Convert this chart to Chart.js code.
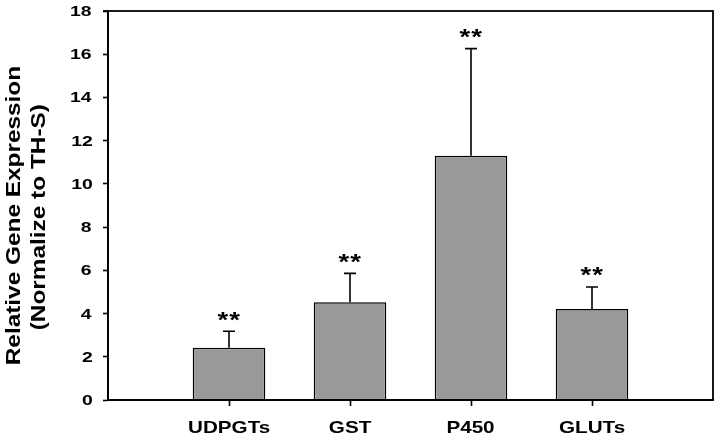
<!DOCTYPE html>
<html>
<head>
<meta charset="utf-8">
<script src="https://cdn.jsdelivr.net/npm/chart.js@4/dist/chart.umd.min.js"></script>
<style>
  html, body { margin: 0; padding: 0; background: #ffffff; }
  #wrap { width: 719px; height: 437px; position: relative; }
</style>
</head>
<body>
<div id="wrap"><canvas id="c" width="719" height="437"></canvas></div>
<script>
const categories = ["", "UDPGTs", "GST", "P450", "GLUTs", ""];
const means = [null, 2.42, 4.52, 11.3, 4.21, null];
const errors = [null, 0.76, 1.34, 4.96, 1.02, null];
const marks = ["", "**", "**", "**", "**", ""];
const yTicks = [0, 2, 4, 6, 8, 10, 12, 14, 16, 18];
const yTitle = ['Relative Gene Expression', '(Normalize to TH-S)'];

const FONT = "'Liberation Sans', Arial, sans-serif";
const SX = 1.25; // horizontal widening of the reference's typeface

function drawWide(ctx, text, x, y, size, opts) {
  opts = opts || {};
  ctx.save();
  ctx.translate(x, y);
  if (opts.rotate) ctx.rotate(opts.rotate);
  ctx.scale(SX, 1);
  ctx.font = 'bold ' + size + 'px ' + FONT;
  ctx.fillStyle = '#000';
  ctx.textBaseline = 'alphabetic';
  if (opts.spacing) ctx.letterSpacing = opts.spacing + 'px';
  const m = ctx.measureText(text);
  const inkW = m.actualBoundingBoxRight + m.actualBoundingBoxLeft;
  let dx;
  const align = opts.align || 'center';
  if (align === 'center') dx = -(m.actualBoundingBoxRight - m.actualBoundingBoxLeft) / 2;
  else if (align === 'right') dx = -m.actualBoundingBoxRight;
  else dx = m.actualBoundingBoxLeft;
  let dy = 0;
  if (opts.vmiddle) dy = (m.actualBoundingBoxAscent - m.actualBoundingBoxDescent) / 2;
  ctx.textAlign = 'left';
  ctx.fillText(text, dx, dy);
  ctx.restore();
  return inkW;
}

const extras = {
  id: 'extras',
  afterDraw(chart) {
    const ctx = chart.ctx;
    const meta = chart.getDatasetMeta(0);
    const y = chart.scales.y;
    const x = chart.scales.x;
    const a = chart.chartArea;

    // error bars and significance marks
    ctx.save();
    meta.data.forEach((bar, i) => {
      if (means[i] == null) return;
      const top = y.getPixelForValue(means[i] + errors[i]);
      const base = y.getPixelForValue(means[i]);
      ctx.strokeStyle = '#000';
      ctx.lineWidth = 1.6;
      ctx.beginPath();
      ctx.moveTo(bar.x, base);
      ctx.lineTo(bar.x, top);
      ctx.moveTo(bar.x - 6, top);
      ctx.lineTo(bar.x + 6, top);
      ctx.stroke();
      drawWide(ctx, marks[i], bar.x, top - 15, 22, { vmiddle: true, spacing: 1 });
    });
    ctx.restore();

    // frame
    ctx.save();
    ctx.strokeStyle = '#000';
    ctx.lineWidth = 1.8;
    ctx.strokeRect(a.left, a.top, a.right - a.left, a.bottom - a.top);
    ctx.beginPath();
    ctx.moveTo(a.left - 5, a.top);
    ctx.lineTo(a.left, a.top);
    ctx.stroke();
    ctx.restore();

    // y tick labels
    yTicks.forEach(v => {
      drawWide(ctx, String(v), a.left - 16, y.getPixelForValue(v), 15.5, { align: 'right', vmiddle: true });
    });
    // x labels
    categories.forEach((c, i) => {
      if (!c) return;
      drawWide(ctx, c, x.getPixelForValue(i), a.bottom + 26.5, 16.5, { vmiddle: true });
    });
    // y title
    const midY = (a.top + a.bottom) / 2 + 10;
    drawWide(ctx, yTitle[0], 20, midY, 19.5, { rotate: -Math.PI / 2 });
    drawWide(ctx, yTitle[1], 44.5, midY + 2, 19.5, { rotate: -Math.PI / 2 });
  }
};

new Chart(document.getElementById('c'), {
  type: 'bar',
  data: {
    labels: categories,
    datasets: [{
      data: means,
      backgroundColor: '#999999',
      borderColor: '#000000',
      borderWidth: 1.5,
      barPercentage: 0.6,
      categoryPercentage: 1.0
    }]
  },
  options: {
    responsive: false,
    animation: false,
    devicePixelRatio: 1,
    layout: { padding: { left: 0, right: 6, top: 11, bottom: 0 } },
    plugins: { legend: { display: false }, tooltip: { enabled: false } },
    scales: {
      x: {
        offset: false,
        grid: {
          offset: false,
          drawOnChartArea: false,
          tickLength: 6,
          tickWidth: 1.6,
          tickColor: (c) => (c.index === 0 || c.index === categories.length - 1) ? 'rgba(0,0,0,0)' : '#000'
        },
        border: { color: '#000', width: 1.8 },
        ticks: { display: false, autoSkip: false },
        afterFit: (s) => { s.height = 37; }
      },
      y: {
        min: 0,
        max: 18,
        afterBuildTicks: (s) => { s.ticks = yTicks.map(v => ({ value: v })); },
        grid: {
          drawOnChartArea: false,
          tickLength: 5,
          tickWidth: 1.6,
          tickColor: '#000'
        },
        border: { color: '#000', width: 1.8 },
        ticks: { display: false },
        title: { display: false },
        afterFit: (s) => { s.width = 108; }
      }
    }
  },
  plugins: [extras]
});
</script>
</body>
</html>
